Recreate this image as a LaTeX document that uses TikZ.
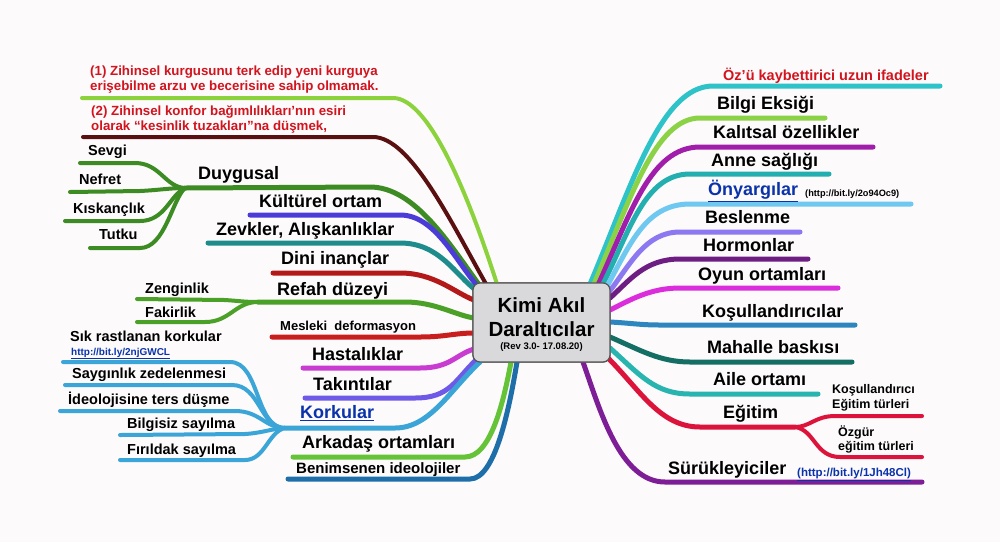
\documentclass[tikz,border=0pt]{standalone}
\usepackage{fontspec}
\setmainfont{Liberation Sans}
\definecolor{bgc}{HTML}{FCFAFB}
\definecolor{redtxt}{HTML}{D2141E}
\definecolor{linkc}{HTML}{0A32AA}
\definecolor{cA}{HTML}{8CD23C}
\definecolor{cB}{HTML}{5A1010}
\definecolor{cDuy}{HTML}{3C8C23}
\definecolor{cKul}{HTML}{4B3CD7}
\definecolor{cZev}{HTML}{1E8C8C}
\definecolor{cDin}{HTML}{B41919}
\definecolor{cRef}{HTML}{4BA028}
\definecolor{cMes}{HTML}{C81E1E}
\definecolor{cHas}{HTML}{C83CD2}
\definecolor{cTak}{HTML}{6E5AE6}
\definecolor{cKor}{HTML}{3CA5D7}
\definecolor{cArk}{HTML}{64C337}
\definecolor{cBen}{HTML}{1E6EAA}
\definecolor{rA}{HTML}{2DC3C8}
\definecolor{rB}{HTML}{8CD246}
\definecolor{rC}{HTML}{A01EAA}
\definecolor{rD}{HTML}{23AFAF}
\definecolor{rE}{HTML}{6EC8F0}
\definecolor{rF}{HTML}{8C78F0}
\definecolor{rG}{HTML}{6E1E82}
\definecolor{rH}{HTML}{DC2DDC}
\definecolor{rI}{HTML}{2D87BE}
\definecolor{rJ}{HTML}{146E64}
\definecolor{rK}{HTML}{28B4AF}
\definecolor{rL}{HTML}{DC143C}
\definecolor{rM}{HTML}{7D1E96}
\definecolor{boxf}{HTML}{D9D9DC}
\definecolor{boxd}{HTML}{555555}
\begin{document}
\begin{tikzpicture}[x=1pt,y=-1pt,
  br/.style={line width=5pt,line cap=round},
  sb/.style={line width=4pt,line cap=round},
  big/.style={anchor=base west,inner sep=0pt,font=\bfseries\fontsize{18}{20}\selectfont},
  mid/.style={anchor=base west,inner sep=0pt,font=\bfseries\fontsize{14.5}{16}\selectfont},
  sml/.style={anchor=base west,inner sep=0pt,font=\bfseries\fontsize{13}{15}\selectfont},
  tiny/.style={anchor=base west,inner sep=0pt,font=\bfseries\fontsize{12.5}{14}\selectfont},
  lnk/.style={anchor=base west,inner sep=0pt,text=linkc,font=\bfseries\fontsize{10}{12}\selectfont},
  redt/.style={anchor=base west,inner sep=0pt,text=redtxt,font=\bfseries\fontsize{13.3}{15}\selectfont}]
\fill[bgc] (0,0) rectangle (1000,542);
\useasboundingbox (0,0) rectangle (1000,542);

% center box node
\node[draw=boxd,fill=boxf,line width=1.2pt,rounded corners=7pt,minimum width=137pt,minimum height=79pt,inner sep=0pt] (c) at (541.5,322.5) {};

% ---------- coordinates: ends on box ----------
\coordinate (e1) at (497,284);
\coordinate (e2) at (486,284);
\coordinate (e3) at (480,286);
\coordinate (e4) at (479,288);
\coordinate (e5) at (477,291);
\coordinate (e6) at (474,300);
\coordinate (e7) at (474,318);
\coordinate (e8) at (474,333);
\coordinate (e9) at (474,349);
\coordinate (e10) at (476,360);
\coordinate (e11) at (480,362);
\coordinate (e12) at (511,362);
\coordinate (e13) at (517,362);
\coordinate (f1) at (590,284);
\coordinate (f2) at (594,284);
\coordinate (f3) at (598,285);
\coordinate (f4) at (602,286);
\coordinate (f5) at (606,288);
\coordinate (f6) at (609,292);
\coordinate (f7) at (610,298);
\coordinate (f8) at (610,310);
\coordinate (f9) at (610,322);
\coordinate (f10) at (610,337);
\coordinate (f11) at (610,348);
\coordinate (f12) at (608,358);
\coordinate (f13) at (583,362);
% junctions
\coordinate (jD) at (185,188);
\coordinate (jR) at (258,302);
\coordinate (jK) at (285,428);
\coordinate (jE) at (795,427);

% ---------- left branches ----------
\draw[sb,cA] (82,98) -- (393,98) .. controls (430,98) and (470,200) .. (e1);
\draw[sb,cB] (83,137) -- (373,137) .. controls (410,137) and (450,220) .. (e2);
% Duygusal
\draw[sb,cDuy] (80,163) -- (135,163) .. controls (160,163) and (165,187) .. (jD);
\draw[sb,cDuy] (70,192) -- (140,191) .. controls (160,190) and (170,188) .. (jD);
\draw[sb,cDuy] (65,221) -- (140,221) .. controls (165,221) and (170,195) .. (jD);
\draw[sb,cDuy] (90,248) -- (140,248) .. controls (165,248) and (172,200) .. (jD);
\draw[br,cDuy] (jD) -- (370,187) .. controls (415,187) and (450,245) .. (e3);
\draw[br,cKul] (250,215) -- (400,215) .. controls (435,215) and (455,260) .. (e4);
\draw[br,cZev] (208,243) -- (400,243) .. controls (440,243) and (455,275) .. (e5);
\draw[br,cDin] (273,273) -- (400,273) .. controls (435,273) and (455,293) .. (e6);
% Refah
\draw[sb,cRef] (137,299) -- (225,300) .. controls (240,301) and (245,302) .. (jR);
\draw[sb,cRef] (137,322) -- (205,322) .. controls (230,322) and (235,302) .. (jR);
\draw[br,cRef] (jR) -- (405,302) .. controls (435,302) and (455,315) .. (e7);
\draw[br,cMes] (272,337) -- (420,337) .. controls (445,337) and (455,333) .. (e8);
\draw[br,cHas] (303,368) -- (420,368) .. controls (450,368) and (455,355) .. (e9);
\draw[br,cTak] (305,398) -- (415,398) .. controls (450,398) and (455,380) .. (e10);
% Korkular
\draw[sb,cKor] (63,362) -- (230,362) .. controls (260,362) and (255,428) .. (jK);
\draw[sb,cKor] (65,385) -- (232,385) .. controls (260,385) and (260,428) .. (jK);
\draw[sb,cKor] (60,411) -- (235,411) .. controls (260,411) and (265,428) .. (jK);
\draw[sb,cKor] (120,435) -- (245,434) .. controls (262,433) and (270,429) .. (jK);
\draw[sb,cKor] (120,460) -- (245,460) .. controls (265,460) and (268,432) .. (jK);
\draw[br,cKor] (jK) -- (395,428) .. controls (430,428) and (450,390) .. (e11);
\draw[br,cArk] (293,457) -- (465,457) .. controls (490,457) and (503,405) .. (e12);
\draw[br,cBen] (288,479) -- (470,479) .. controls (495,479) and (509,410) .. (e13);

% ---------- right branches ----------
\draw[br,rA] (f1) .. controls (630,190) and (660,86) .. (713,86) -- (940,86);
\draw[br,rB] (f2) .. controls (630,200) and (655,118) .. (700,118) -- (825,118);
\draw[br,rC] (f3) .. controls (630,215) and (650,147) .. (700,147) -- (873,147);
\draw[br,rD] (f4) .. controls (630,230) and (645,174) .. (690,174) -- (829,174);
\draw[br,rE] (f5) .. controls (630,245) and (645,204) .. (690,204) -- (911,204);
\draw[br,rF] (f6) .. controls (630,265) and (645,232) .. (680,232) -- (800,232);
\draw[br,rG] (f7) .. controls (630,280) and (645,259) .. (680,259) -- (808,259);
\draw[br,rH] (f8) .. controls (630,300) and (650,288) .. (680,288) -- (838,288);
\draw[br,rI] (f9) .. controls (630,323) and (640,325) .. (660,325) -- (855,325);
\draw[br,rJ] (f10) .. controls (640,350) and (660,362) .. (690,362) -- (852,362);
\draw[br,rK] (f11) .. controls (640,375) and (655,394) .. (690,394) -- (818,394);
\draw[br,rL] (f12) .. controls (640,390) and (660,427) .. (700,427) -- (jE);
\draw[sb,rL] (jE) .. controls (810,427) and (815,416) .. (835,416) -- (922,416);
\draw[sb,rL] (jE) .. controls (815,430) and (815,457) .. (840,457) -- (922,457);
\draw[br,rM] (f13) .. controls (600,410) and (620,482) .. (665,482) -- (922,482);

% redraw box on top
\node[draw=boxd,fill=boxf,line width=1.2pt,rounded corners=7pt,minimum width=137pt,minimum height=79pt,inner sep=0pt] (c2) at (c) {};
\node[inner sep=0pt,font=\bfseries\fontsize{20.5}{22}\selectfont] (t1) at (541.5,305) {Kimi Akıl};
\node[inner sep=0pt,font=\bfseries\fontsize{20.5}{22}\selectfont] (t2) at (541.5,329) {Daraltıcılar};
\node[inner sep=0pt,font=\bfseries\fontsize{9.5}{11}\selectfont] (t3) at (541.5,347) {(Rev 3.0- 17.08.20)};

% ---------- left labels ----------
\node[redt] (l1a) at (90,75.7) {(1) Zihinsel kurgusunu terk edip yeni kurguya};
\node[redt] (l1b) at (90,90.7) {erişebilme arzu ve becerisine sahip olmamak.};
\node[redt] (l2a) at (91,115.7) {(2) Zihinsel konfor bağımlılıkları’nın esiri};
\node[redt] (l2b) at (91,130.7) {olarak “kesinlik tuzakları”na düşmek,};
\node[big] (lDuy) at (198,179.5) {Duygusal};
\node[mid] (lSev) at (88,155) {Sevgi};
\node[mid] (lNef) at (79,184) {Nefret};
\node[mid] (lKis) at (73,213) {Kıskançlık};
\node[mid] (lTut) at (99,239) {Tutku};
\node[big] (lKul) at (259,207.5) {Kültürel ortam};
\node[big] (lZev) at (216,235.5) {Zevkler, Alışkanlıklar};
\node[big] (lDin) at (281,264.5) {Dini inançlar};
\node[mid] (lZen) at (145,293) {Zenginlik};
\node[mid] (lFak) at (145,317) {Fakirlik};
\node[big] (lRef) at (277,295.5) {Refah düzeyi};
\node[sml] (lMes) at (280,330.5) {Mesleki~~deformasyon};
\node[mid] (lSik) at (70,341) {Sık rastlanan korkular};
\node[lnk] (lSikL) at (71,355) {\underline{http://bit.ly/2njGWCL}};
\node[mid] (lSay) at (72,378) {Saygınlık zedelenmesi};
\node[mid] (lIde) at (68,404) {İdeolojisine ters düşme};
\node[mid] (lBil) at (127,428) {Bilgisiz sayılma};
\node[mid] (lFir) at (127,454) {Fırıldak sayılma};
\node[big] (lHas) at (312,360.5) {Hastalıklar};
\node[big] (lTak) at (313,390.5) {Takıntılar};
\node[big,text=linkc] (lKor) at (300,418.5) {\underline{Korkular}};
\node[big] (lArk) at (302,448.5) {Arkadaş ortamları};
\node[anchor=base west,inner sep=0pt,font=\bfseries\fontsize{15}{17}\selectfont] (lBen) at (296,473.5) {Benimsenen ideolojiler};

% ---------- right labels ----------
\node[redt,font=\bfseries\fontsize{14.5}{16}\selectfont] (rOz) at (723,80) {Öz’ü kaybettirici uzun ifadeler};
\node[big] (rBil) at (717,109.5) {Bilgi Eksiği};
\node[big] (rKal) at (713,138.5) {Kalıtsal özellikler};
\node[big] (rAnn) at (711,166.5) {Anne sağlığı};
\node[big,text=linkc] (rOny) at (708,195.5) {\underline{Önyargılar}};
\node[anchor=base west,inner sep=0pt,font=\bfseries\fontsize{9.2}{11}\selectfont] (rOnyL) at (805,196.5) {(http://bit.ly/2o94Oc9)};
\node[big] (rBes) at (705,223.5) {Beslenme};
\node[big] (rHor) at (703,251.5) {Hormonlar};
\node[big] (rOyu) at (698,280.5) {Oyun ortamları};
\node[big] (rKos) at (702,317.5) {Koşullandırıcılar};
\node[big] (rMah) at (707,353.5) {Mahalle baskısı};
\node[big] (rAil) at (713,385.5) {Aile ortamı};
\node[big] (rEgi) at (723,418.5) {Eğitim};
\node[tiny] (rKo1) at (832,393.5) {Koşullandırıcı};
\node[tiny] (rKo2) at (832,408.5) {Eğitim türleri};
\node[tiny] (rOz1) at (838,436.5) {Özgür};
\node[tiny] (rOz2) at (838,450.5) {eğitim türleri};
\node[big] (rSur) at (668,474.5) {Sürükleyiciler};
\node[lnk,font=\bfseries\fontsize{11.5}{13}\selectfont] (rSurL) at (797,476) {\underline{(http://bit.ly/1Jh48Cl)}};
\end{tikzpicture}
\end{document}
